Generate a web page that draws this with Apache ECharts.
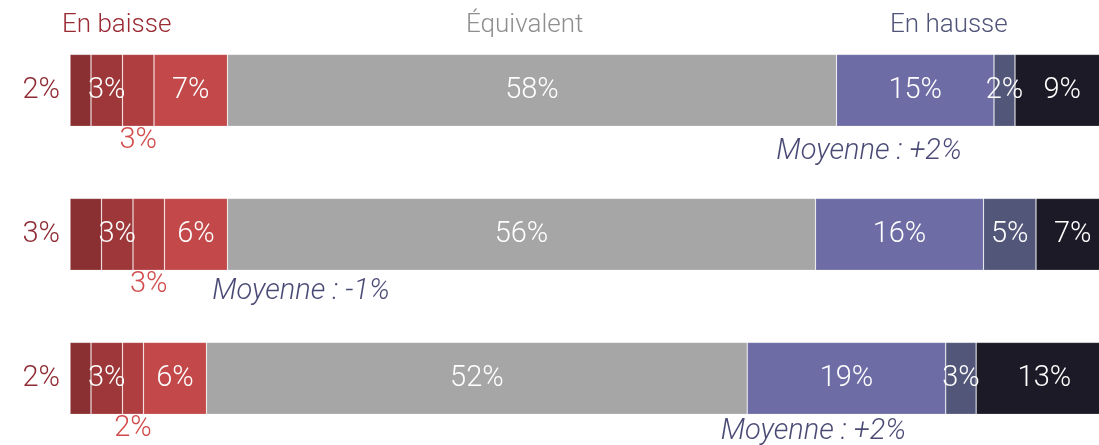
<!DOCTYPE html>
<html>
<head>
<meta charset="utf-8">
<script src="https://cdn.jsdelivr.net/npm/echarts@6/dist/echarts.min.js"></script>
<style>html,body{margin:0;padding:0;background:#fff;overflow:hidden;}#c{width:1099px;height:445px;}</style>
</head>
<body>
<div id="c"></div>
<script>
// Data
const categories = ['Ligne 1', 'Ligne 2', 'Ligne 3'];
const seriesNames = ['Forte baisse', 'Baisse', 'Légère baisse', 'Baisse modérée', 'Équivalent', 'Hausse modérée', 'Hausse', 'Forte hausse'];
const seg1 = [2, 3, 2];
const seg2 = [3, 3, 3];
const seg3 = [3, 3, 2];
const seg4 = [7, 6, 6];
const seg5 = [58, 56, 51.5];
const seg6 = [15, 16, 18.9];
const seg7 = [2, 5, 2.9];
const seg8 = [9, 7, 13];
const meanLabels = ['Moyenne : +2%', 'Moyenne : -1%', 'Moyenne : +2%'];
const meanAnchor = [76.1, 22.0, 70.8];
const headers = ['En baisse', 'Équivalent', 'En hausse'];

const segs = [seg1, seg2, seg3, seg4, seg5, seg6, seg7, seg8];
const colors = ['#8A2F32', '#9D3739', '#AF3E40', '#C24849', '#A6A6A6', '#6D6CA5', '#525679', '#1B1A26'];
const FONT = 'Roboto';
const FS = 29;

const series = segs.map((d, i) => {
  let label = {
    show: true, position: 'inside', color: '#ffffff',
    fontFamily: FONT, fontWeight: 300, fontSize: FS,
    formatter: p => Math.round(p.value) + '%'
  };
  if (i === 0) { label.position = 'left'; label.distance = 10; label.color = '#8E2A33'; }
  if (i === 2) { label.position = 'bottom'; label.distance = 0; label.color = '#D24C4D'; }
  return {
    name: seriesNames[i], type: 'bar', stack: 'total', barWidth: 72,
    data: d,
    itemStyle: { color: colors[i], borderColor: 'rgba(255,255,255,0.22)', borderWidth: 0.8 },
    label: label,
    emphasis: { disabled: true },
    silent: true
  };
});

const meanOffsets = [61, 57.5, 53.5];
series.push({
  type: 'scatter', symbolSize: 0, silent: true,
  data: meanLabels.map((t, i) => ({
    value: [meanAnchor[i], categories[i]],
    label: { offset: [0, meanOffsets[i]] }
  })),
  label: {
    show: true, position: 'inside', color: '#1C1B52',
    fontFamily: FONT, fontWeight: 300, fontStyle: 'italic', fontSize: FS,
    formatter: p => meanLabels[p.dataIndex]
  }
});

const chart = echarts.init(document.getElementById('c'), null, { renderer: 'canvas' });
chart.setOption({
  animation: false,
  backgroundColor: '#ffffff',
  grid: { left: 70, top: 18.3, width: 1050, height: 432, containLabel: false, outerBoundsMode: 'none' },
  xAxis: { type: 'value', min: 0, max: 100, show: false },
  yAxis: { type: 'category', data: categories, inverse: true, show: false },
  graphic: [
    { type: 'text', left: 62, top: 12, style: { text: headers[0], fill: '#9A2A33', font: '300 26px Roboto' } },
    { type: 'text', left: 466, top: 12, style: { text: headers[1], fill: '#8E8E8E', font: '300 26px Roboto' } },
    { type: 'text', left: 890, top: 12, style: { text: headers[2], fill: '#505478', font: '300 26px Roboto' } }
  ],
  series: series
});
</script>
</body>
</html>
